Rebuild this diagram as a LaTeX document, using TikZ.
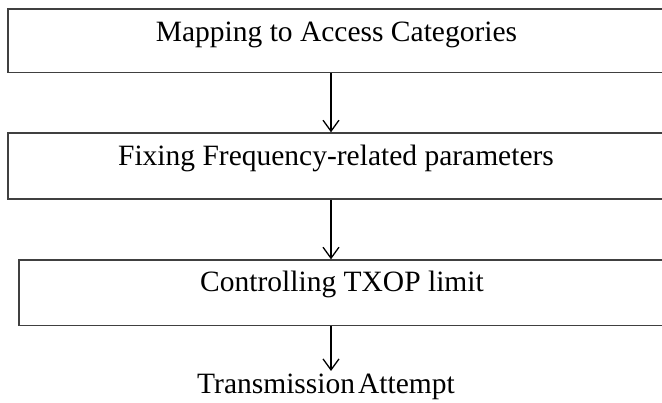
\documentclass[tikz,border=0pt]{standalone}
\usepackage{fontspec}
\setmainfont{Liberation Serif}
\usetikzlibrary{arrows.meta}
\begin{document}
\begin{tikzpicture}[x=1pt,y=-1pt,
  box/.style={draw=black!75,line width=1.4pt,rectangle,inner sep=0pt},
  lbl/.style={inner sep=0pt,anchor=base,font=\fontsize{29.5}{32}\selectfont},
  arr/.style={draw=black,line width=1.3pt,-{Straight Barb[length=11pt,width=16pt,line width=1.3pt]}}]
\useasboundingbox (0,0) rectangle (662,403);
\node[box,minimum width=658pt,minimum height=63.7pt] (b1) at (337,40.85) {};
\node[box,minimum width=658pt,minimum height=66pt] (b2) at (337,166) {};
\node[box,minimum width=647pt,minimum height=65.7pt] (b3) at (342.5,292.85) {};
\node[lbl] (t1) at (336.5,42) {Mapping to Access Categories};
\node[lbl] (t2) at (336,166) {Fixing Frequency-related parameters};
\node[lbl] (t3) at (342,292) {Controlling TXOP limit};
\node[lbl] (t4) at (326,394) {Transmission\hspace{3pt}Attempt};
\coordinate (ax) at (331,0);
\coordinate (e3) at (331,371);
\draw[arr] (b1.south -| ax) -- (b2.north -| ax);
\draw[arr] (b2.south -| ax) -- (b3.north -| ax);
\draw[arr] (b3.south -| ax) -- (e3);
\end{tikzpicture}
\end{document}
